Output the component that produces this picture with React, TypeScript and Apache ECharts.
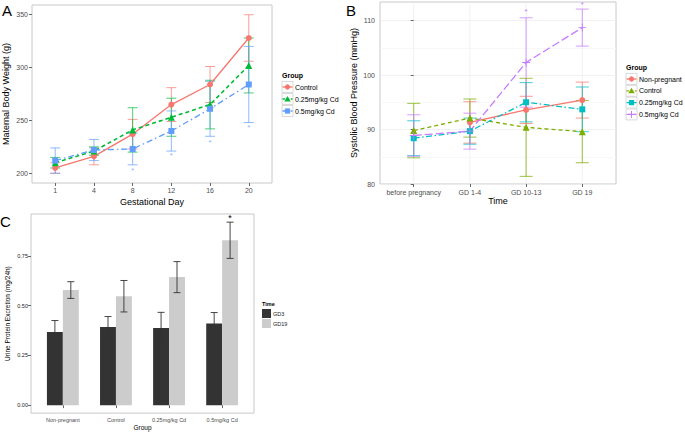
import React, { useEffect, useRef } from 'react';
import * as echarts from 'echarts';

const FONT = '"Liberation Sans", Arial, Helvetica, sans-serif';

// ---------- Panel A: maternal body weight ----------
const daysA = ['1', '4', '8', '12', '16', '20'];
const controlA = [205, 216, 237, 265, 284, 328];
const controlAErr = [5, 8, 14, 16, 17, 22];
const cd025A = [210, 221, 241, 253, 265, 302];
const cd025AErr = [5, 4, 21, 18, 23, 26];
const cd05A = [212, 222, 223, 240, 261, 284];
const cd05AErr = [12, 10, 15, 19, 26, 36];
const starA = [null, null, 203, 217, 229, 243];
const ticksA = [200, 250, 300, 350];

// ---------- Panel B: systolic blood pressure ----------
const timesB = ['before pregnancy', 'GD 1-4', 'GD 10-13', 'GD 19'];
const nonPregB = [null, 91.3, 93.6, 95.4];
const nonPregBErr = [null, 3.8, 2.5, 3.3];
const controlB = [89.8, 92.1, 90.4, 89.6];
const controlBErr = [5, 3.5, 9, 5.7];
const cd025B = [88.4, 89.7, 95.0, 93.7];
const cd025BErr = [3.2, 2.4, 3.6, 4.1];
const cd05B = [88.9, 89.7, 102.3, 108.7];
const cd05BErr = [3.8, 3.3, 8.2, 3.4];
const starB = [null, null, 111.7, 113.0];
const ticksB = [80, 90, 100, 110];
const minorTicksB = [85, 95, 105];
const rangeB = [80, 113.4];

// ---------- Panel C: urine protein ----------
const groupsC = ['Non-pregnant', 'Control', '0.25mg/kg Cd', '0.5mg/kg Cd'];
const gd3C = [0.367, 0.392, 0.388, 0.41];
const gd3CErr = [0.058, 0.053, 0.078, 0.055];
const gd19C = [0.578, 0.547, 0.643, 0.828];
const gd19CErr = [0.042, 0.079, 0.078, 0.091];
const starC = [null, null, null, 0.942];
const ticksC = [0, 0.25, 0.5, 0.75];

const PLUS = 'path://M4.5,0H5.5V4.5H10V5.5H5.5V10H4.5V5.5H0V4.5H4.5Z';
const BARW = 0.3;

type Val = number | null;

function pts(vals: Val[], offset: number) {
  return vals
    .map((v, i) => (v == null ? null : [i + offset, v]))
    .filter((p) => p !== null);
}

function errData(vals: Val[], errs: Val[], offset: number) {
  return vals
    .map((v, i) => (v == null ? null : [i + offset, v, errs[i] as number]))
    .filter((p) => p !== null);
}

function errSeries(
  xi: number, yi: number, data: any[], color: string,
  capHalf: number, opacity: number, dx = 0, lw = 1
) {
  return {
    type: 'custom', xAxisIndex: xi, yAxisIndex: yi, silent: true, z: 2,
    data, encode: { x: 0, y: 1 },
    renderItem: (_p: any, api: any) => {
      const x = api.value(0) + dx;
      const y = api.value(1);
      const e = api.value(2);
      const t = api.coord([x, y + e]);
      const b = api.coord([x, y - e]);
      const st = { stroke: color, lineWidth: lw, opacity };
      return {
        type: 'group',
        children: [
          { type: 'line', shape: { x1: t[0], y1: t[1], x2: b[0], y2: b[1] }, style: st },
          { type: 'line', shape: { x1: t[0] - capHalf, y1: t[1], x2: t[0] + capHalf, y2: t[1] }, style: st },
          { type: 'line', shape: { x1: b[0] - capHalf, y1: b[1], x2: b[0] + capHalf, y2: b[1] }, style: st },
        ],
      };
    },
  };
}

function vGridSeries(xi: number, yi: number, xs: number[], range: number[], color: string) {
  return {
    type: 'custom', xAxisIndex: xi, yAxisIndex: yi, silent: true, z: 0,
    data: xs.map((x) => [x, range[0], range[1]]), encode: { x: 0, y: 1 },
    renderItem: (_p: any, api: any) => {
      const a = api.coord([api.value(0), api.value(1)]);
      const b = api.coord([api.value(0), api.value(2)]);
      return {
        type: 'line', shape: { x1: a[0], y1: a[1], x2: b[0], y2: b[1] },
        style: { stroke: color, lineWidth: 0.8 },
      };
    },
  };
}

function starSeries(xi: number, yi: number, data: any[], color: string, size: number, dx = 0) {
  return {
    type: 'custom', xAxisIndex: xi, yAxisIndex: yi, silent: true, z: 4,
    data, encode: { x: 0, y: 1 },
    renderItem: (_p: any, api: any) => {
      const c = api.coord([api.value(0) + dx, api.value(1)]);
      return {
        type: 'text', x: c[0], y: c[1],
        style: { text: '*', fill: color, fontSize: size, fontFamily: FONT, align: 'center', verticalAlign: 'middle' },
      };
    },
  };
}

function barSeries(xi: number, yi: number, data: any[], side: number, color: string) {
  return {
    type: 'custom', xAxisIndex: xi, yAxisIndex: yi, silent: true, z: 1,
    data, encode: { x: 0, y: 1 },
    renderItem: (_p: any, api: any) => {
      const x = api.value(0);
      const y = api.value(1);
      const xa = side < 0 ? x - BARW : x;
      const xb = side < 0 ? x : x + BARW;
      const p0 = api.coord([xa, y]);
      const p1 = api.coord([xb, 0]);
      return {
        type: 'rect',
        shape: { x: p0[0], y: p0[1], width: p1[0] - p0[0], height: p1[1] - p0[1] },
        style: { fill: color },
      };
    },
  };
}

function lineSeries(xi: number, yi: number, data: any[], s: any) {
  return {
    type: 'line', name: s.name, xAxisIndex: xi, yAxisIndex: yi, z: 3,
    data, symbol: s.symbol, symbolSize: s.size,
    itemStyle: { color: s.color },
    lineStyle: { color: s.color, width: s.width, type: s.dash },
    silent: true,
  };
}

function xAxis(gi: number, min: number, max: number, vals: number[], labels: string[], off: number,
  name: string, nameGap: number, fs: number, nfs: number, margin: number) {
  return {
    gridIndex: gi, type: 'value', min, max,
    name, nameLocation: 'middle', nameGap,
    nameTextStyle: { fontSize: nfs, color: '#000', fontFamily: FONT },
    axisLine: { show: false },
    axisTick: { show: true, customValues: vals, length: 3, lineStyle: { color: '#666', width: 1 } },
    axisLabel: {
      customValues: vals, fontSize: fs, color: '#4D4D4D', margin, fontFamily: FONT,
      formatter: (v: number) => labels[Math.round(v) - off] ?? '',
    },
    splitLine: { show: false },
  };
}

function yAxis(gi: number, min: number, max: number, vals: number[], name: string, nameGap: number,
  fs: number, nfs: number, margin: number, fmt: (v: number) => string, split = false, labelColor = '#4D4D4D') {
  return {
    gridIndex: gi, type: 'value', min, max,
    name, nameLocation: 'middle', nameGap,
    nameTextStyle: { fontSize: nfs, color: '#000', fontFamily: FONT },
    axisLine: { show: false },
    axisTick: { show: true, customValues: vals, length: 3, lineStyle: { color: '#666', width: 1 } },
    axisLabel: { customValues: vals, fontSize: fs, color: labelColor, margin, fontFamily: FONT, formatter: fmt },
    splitLine: { show: split, lineStyle: { color: '#EEEEEE', width: 0.8, type: 'solid' } },
  };
}

function text(x: number, y: number, t: string, size: number, weight = 'normal', align = 'left', color = '#000') {
  return {
    type: 'text', x, y, silent: true,
    style: { text: t, fill: color, fontSize: size, fontWeight: weight, fontFamily: FONT, align, verticalAlign: 'middle' },
  };
}

function legendKey(x: number, y: number, w: number, h: number, s: any) {
  const cx = x + w / 2;
  const cy = y;
  const children: any[] = [
    { type: 'rect', shape: { x, y: y - h / 2, width: w, height: h }, style: { fill: '#fff', stroke: '#D0D0D0', lineWidth: 0.8 } },
    {
      type: 'line', shape: { x1: x + 0.5, y1: cy, x2: x + w - 0.5, y2: cy },
      style: { stroke: s.color, lineWidth: s.width, lineDash: Array.isArray(s.dash) ? s.dash.map((d: number) => d * 0.6) : null },
    },
  ];
  if (s.symbol === 'circle') {
    children.push({ type: 'circle', shape: { cx, cy, r: 2.6 }, style: { fill: s.color } });
  } else if (s.symbol === 'triangle') {
    children.push({ type: 'polygon', shape: { points: [[cx, cy - 3], [cx - 3.2, cy + 2.5], [cx + 3.2, cy + 2.5]] }, style: { fill: s.color } });
  } else if (s.symbol === 'rect') {
    children.push({ type: 'rect', shape: { x: cx - 2.6, y: cy - 2.6, width: 5.2, height: 5.2 }, style: { fill: s.color } });
  } else {
    children.push({ type: 'line', shape: { x1: cx - 3.5, y1: cy, x2: cx + 3.5, y2: cy }, style: { stroke: s.color, lineWidth: 1 } });
    children.push({ type: 'line', shape: { x1: cx, y1: cy - 3.5, x2: cx, y2: cy + 3.5 }, style: { stroke: s.color, lineWidth: 1 } });
  }
  return { type: 'group', silent: true, children };
}

const stylesA = [
  { name: 'Control', color: '#F8766D', symbol: 'circle', size: 6, width: 1.3, dash: 'solid' },
  { name: '0.25mg/kg Cd', color: '#00BA38', symbol: 'triangle', size: 7, width: 1.6, dash: [4, 3] },
  { name: '0.5mg/kg Cd', color: '#619CFF', symbol: 'rect', size: 6, width: 1.3, dash: [6, 3, 1.5, 3] },
];
const stylesB = [
  { name: 'Non-pregnant', color: '#F8766D', symbol: 'circle', size: 6, width: 1.3, dash: 'solid' },
  { name: 'Control', color: '#7CAE00', symbol: 'triangle', size: 7, width: 1.3, dash: [4, 3] },
  { name: '0.25mg/kg Cd', color: '#00BFC4', symbol: 'rect', size: 6, width: 1.3, dash: [6, 2.5, 1.5, 2.5] },
  { name: '0.5mg/kg Cd', color: '#C77CFF', symbol: PLUS, size: 8, width: 1.3, dash: [8, 3] },
];

export default function App() {
  const ref = useRef<HTMLDivElement>(null);

  useEffect(() => {
    if (!ref.current) return;
    const chart = echarts.init(ref.current, null, { renderer: 'svg' });

    const valsA = [controlA, cd025A, cd05A];
    const errsA = [controlAErr, cd025AErr, cd05AErr];
    const valsB = [nonPregB, controlB, cd025B, cd05B];
    const errsB = [nonPregBErr, controlBErr, cd025BErr, cd05BErr];

    const series: any[] = [];
    stylesA.forEach((s, k) => {
      series.push(errSeries(0, 0, errData(valsA[k], errsA[k], 1), s.color, 5, 0.7));
    });
    stylesA.forEach((s, k) => {
      series.push(lineSeries(0, 0, pts(valsA[k], 1), s));
    });
    series.push(starSeries(0, 0, pts(starA, 1), '#8DB6FF', 8));

    series.push(vGridSeries(1, 1, [0, 1, 2, 3], rangeB, '#EEEEEE'));
    stylesB.forEach((s, k) => {
      series.push(errSeries(1, 1, errData(valsB[k], errsB[k], 0), s.color, 6.5, 0.75));
    });
    stylesB.forEach((s, k) => {
      series.push(lineSeries(1, 1, pts(valsB[k], 0), s));
    });
    series.push(starSeries(1, 1, pts(starB, 0), '#C77CFF', 8));

    series.push(barSeries(2, 3, pts(gd3C, 1), -1, '#333333'));
    series.push(barSeries(2, 3, pts(gd19C, 1), 1, '#CCCCCC'));
    series.push(errSeries(2, 3, errData(gd3C, gd3CErr, 1), '#333333', 3.5, 0.9, -BARW / 2));
    series.push(errSeries(2, 3, errData(gd19C, gd19CErr, 1), '#333333', 3.5, 0.9, BARW / 2));
    series.push(starSeries(2, 3, pts(starC, 1), '#000', 9, BARW / 2));

    const graphic: any[] = [
      text(2, 10, 'A', 15),
      text(346, 10, 'B', 15),
      text(0, 221, 'C', 15),
      // legend A
      text(282, 75, 'Group', 7, 'bold'),
      ...stylesA.flatMap((s, k) => [legendKey(282, 87 + k * 12, 11, 11, s), text(295, 87 + k * 12, s.name, 7)]),
      // legend B
      text(626, 67, 'Group', 7, 'bold'),
      ...stylesB.flatMap((s, k) => [legendKey(626, 79 + k * 11.8, 11, 11, s), text(639, 79 + k * 11.8, s.name, 7)]),
      // legend C
      text(262, 304, 'Time', 5.5, 'bold'),
      { type: 'rect', silent: true, shape: { x: 262, y: 309, width: 9, height: 9 }, style: { fill: '#333333' } },
      { type: 'rect', silent: true, shape: { x: 262, y: 319, width: 9, height: 9 }, style: { fill: '#CCCCCC' } },
      text(273, 313.5, 'GD3', 5.5, 'normal', 'left', '#222'),
      text(273, 323.5, 'GD19', 5.5, 'normal', 'left', '#222'),
    ];

    const option: any = {
      animation: false,
      backgroundColor: '#fff',
      textStyle: { fontFamily: FONT },
      grid: [
        { left: 32, top: 5, width: 240, height: 178, show: true, borderColor: '#C8C8C8', borderWidth: 1, backgroundColor: '#fff' },
        { left: 380, top: 2, width: 236, height: 182, show: true, borderColor: '#C8C8C8', borderWidth: 1, backgroundColor: '#fff' },
        { left: 31, top: 214, width: 223, height: 200, show: true, borderColor: '#C8C8C8', borderWidth: 1, backgroundColor: '#fff' },
      ],
      xAxis: [
        xAxis(0, 0.4, 6.6, [1, 2, 3, 4, 5, 6], daysA, 1, 'Gestational Day', 14, 7, 9, 4),
        xAxis(1, -0.6, 3.6, [0, 1, 2, 3], timesB, 0, 'Time', 12, 7, 9, 5),
        xAxis(2, 0.4, 4.6, [1, 2, 3, 4], groupsC, 1, 'Group', 10, 5.5, 6.5, 4),
      ],
      yAxis: [
        yAxis(0, 190.8, 359.2, ticksA, 'Maternal Body Weight (g)', 22, 7, 9, 4, (v) => String(v)),
        yAxis(1, rangeB[0], rangeB[1], ticksB, 'Systolic Blood Pressure (mmHg)', 22, 7, 9, 5, (v) => String(v), true),
        {
          gridIndex: 1, type: 'value', min: rangeB[0], max: rangeB[1], position: 'left',
          axisLine: { show: false },
          axisTick: { show: false, customValues: minorTicksB },
          axisLabel: { show: false, customValues: minorTicksB },
          splitLine: { show: true, lineStyle: { color: '#F6F6F6', width: 0.8, type: 'solid' } },
        },
        yAxis(2, -0.04, 0.96, ticksC, 'Urine Protein Excretion (mg/24h)', 20, 5.5, 6.5, 3, (v) => v.toFixed(2), false, '#222'),
      ],
      series,
      graphic,
    };

    chart.setOption(option);
    return () => chart.dispose();
  }, []);

  return (
    <div
      ref={ref}
      style={{ position: 'fixed', left: 0, top: 0, width: 685, height: 432, background: '#fff' }}
    />
  );
}
